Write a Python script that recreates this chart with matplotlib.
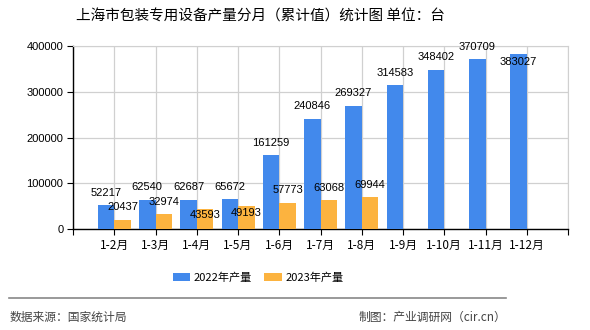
import matplotlib
matplotlib.use("Agg")
import matplotlib.pyplot as plt
import numpy as np

plt.rcParams['font.family'] = ['Noto Sans CJK SC', 'DejaVu Sans']

categories = ["1-2月", "1-3月", "1-4月", "1-5月", "1-6月", "1-7月", "1-8月",
              "1-9月", "1-10月", "1-11月", "1-12月"]
values_2022 = [52217, 62540, 62687, 65672, 161259, 240846, 269327,
               314583, 348402, 370709, 383027]
values_2023 = [20437, 32974, 43593, 49193, 57773, 63068, 69944]
yticks = [0, 100000, 200000, 300000, 400000]

# label vertical offsets (pixels) relative to bar tops
off_2022 = [12, 13, 13, 12, 12, 13, 13, 12, 13, 12, -8]
off_2023 = [13, 12, -6, -7, 13, 12, 12]

c22 = "#4289EC"
c23 = "#FCB33F"

fig = plt.figure(figsize=(5.9, 3.3), dpi=100)
ax = fig.add_axes([73/590, 1-229/330, (568-73)/590, (229-46)/330])

x = np.arange(len(categories))
w = 0.4
x23 = np.arange(len(values_2023))
ax.bar(x - w/2, values_2022, width=w, color=c22, zorder=3, label="2022年产量")
ax.bar(x23 + w/2, values_2023, width=w, color=c23, zorder=3, label="2023年产量")

for xi, v, o in zip(x, values_2022, off_2022):
    ax.annotate(str(v), (xi - w/2, v), xytext=(0, o), textcoords='offset pixels',
                ha='center', va='center', fontsize=8, family=['Liberation Sans'], zorder=5)
for xi, v, o in zip(x23, values_2023, off_2023):
    ax.annotate(str(v), (xi + w/2, v), xytext=(0, o), textcoords='offset pixels',
                ha='center', va='center', fontsize=8, family=['Liberation Sans'], zorder=5)

ax.set_xlim(-1, len(categories))
ax.set_ylim(0, 400000)
ax.set_yticks(yticks)
ax.set_yticklabels([str(t) for t in yticks], fontsize=8, family=['Liberation Sans'])
ax.set_xticks(np.arange(-1, len(categories) + 1))
ax.set_xticklabels([""] + categories + [""], fontsize=8.5)
ax.grid(True, color="#d0d0d0", linewidth=0.9, zorder=0)
for s in ["top", "right"]:
    ax.spines[s].set_color("#d0d0d0")
for s in ["left", "bottom"]:
    ax.spines[s].set_color("black")
    ax.spines[s].set_linewidth(1)
ax.tick_params(axis='both', length=4, color='black', pad=3)

fig.text(260/590, 1-17/330, "上海市包装专用设备产量分月（累计值）统计图 单位：台",
         ha='center', va='center', fontsize=10.5)

leg = fig.legend(loc='center', bbox_to_anchor=(258/590, 1-278/330), ncol=2,
                 frameon=False, fontsize=8, handlelength=1.6, handleheight=0.7,
                 columnspacing=1.1, handletextpad=0.3)

fig.add_artist(plt.Line2D([9/590, 506/590], [1-298/330, 1-298/330],
                          color="#888888", linewidth=1.2, transform=fig.transFigure))
fig.text(10/590, 1-317/330, "数据来源：国家统计局", ha='left', va='center',
         fontsize=8.5, color="#444444")
fig.text(506/590, 1-317/330, "制图：产业调研网（cir.cn）", ha='right', va='center',
         fontsize=8.5, color="#444444")

fig.savefig("out.png", dpi=100)
